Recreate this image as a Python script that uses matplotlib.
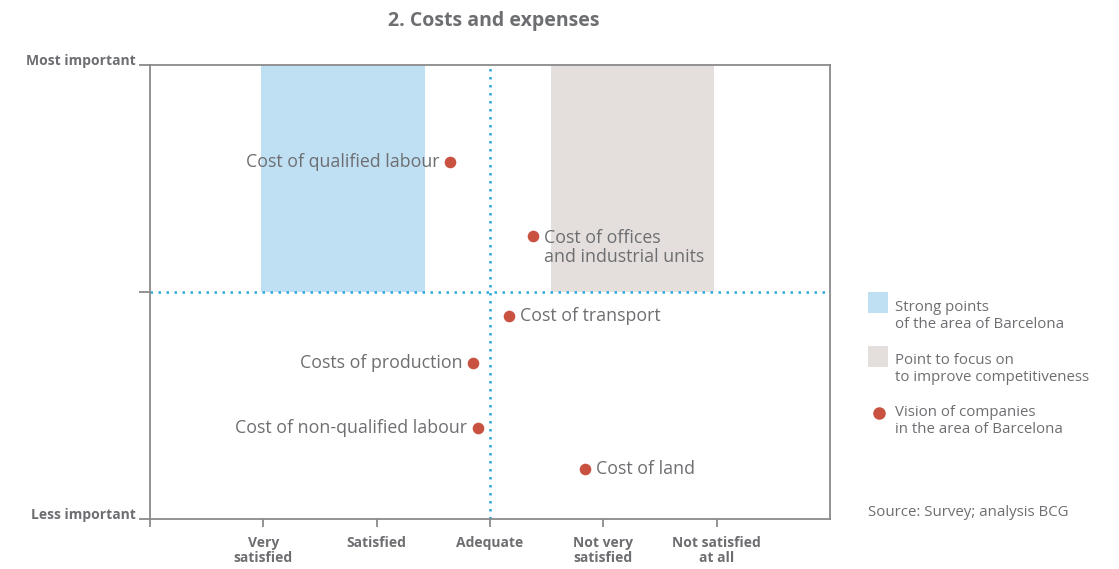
import matplotlib
matplotlib.use("Agg")
import matplotlib.pyplot as plt
import matplotlib.transforms as mtransforms
from matplotlib.patches import Rectangle
from matplotlib.lines import Line2D

plt.rcParams['font.family'] = ['Open Sans', 'DejaVu Sans']

# Data
x_categories = ["Very\nsatisfied", "Satisfied", "Adequate", "Not very\nsatisfied", "Not satisfied\nat all"]
x_positions = [1, 2, 3, 4, 5]
y_tick_labels = ["Less important", "", "Most important"]
y_tick_positions = [0, 5, 10]

point_labels = ["Cost of qualified labour", "Cost of offices\nand industrial units", "Cost of transport",
                "Costs of production", "Cost of non-qualified labour", "Cost of land"]
point_x = [2.65, 3.38, 3.17, 2.85, 2.89, 3.84]
point_y = [7.87, 6.23, 4.47, 3.44, 2.0, 1.1]
label_side = ["left", "right", "right", "left", "left", "right"]

strong_zone = (0.98, 2.43, 5, 10)   # x0, x1, y0, y1
focus_zone = (3.54, 4.98, 5, 10)

TXT = "#6d6e71"
SPINE = "#8a8a8a"
BLUE = "#bfdff3"
GREY = "#e4dfdd"
DOT = "#c8523f"
DOTTED = "#2aa8e0"

fig = plt.figure(figsize=(11.19, 5.69), dpi=100)
ax = fig.add_axes([150/1119, 1-519/569, 680/1119, 454/569])
ax.set_xlim(0, 6)
ax.set_ylim(0, 10)

ax.add_patch(Rectangle((strong_zone[0], strong_zone[2]), strong_zone[1]-strong_zone[0],
                       strong_zone[3]-strong_zone[2], facecolor=BLUE, edgecolor='none', zorder=0))
ax.add_patch(Rectangle((focus_zone[0], focus_zone[2]), focus_zone[1]-focus_zone[0],
                       focus_zone[3]-focus_zone[2], facecolor=GREY, edgecolor='none', zorder=0))

ax.axvline(3, color=DOTTED, linestyle=(0, (1, 2.2)), linewidth=1.8, zorder=1)
ax.axhline(5, color=DOTTED, linestyle=(0, (1, 2.2)), linewidth=1.8, zorder=1)

ax.scatter(point_x, point_y, s=70, color=DOT, zorder=3, linewidths=0)
for lab, px, py, side in zip(point_labels, point_x, point_y, label_side):
    if side == "left":
        ax.annotate(lab, (px, py), xytext=(-7.5, 0), textcoords='offset points',
                    ha='right', va='center', fontsize=12.8, color=TXT)
    elif '\n' in lab:
        ax.annotate(lab, (px, py), xytext=(8, 5.5), textcoords='offset points',
                    ha='left', va='top', fontsize=12.8, color=TXT, linespacing=1.1)
    else:
        ax.annotate(lab, (px, py), xytext=(8, 0), textcoords='offset points',
                    ha='left', va='center', fontsize=12.8, color=TXT)

for s in ax.spines.values():
    s.set_color(SPINE)
    s.set_linewidth(1.3)

ax.set_xticks([0] + x_positions)
ax.set_xticklabels([""] + x_categories, fontsize=10, fontweight='bold', color=TXT, linespacing=1.1)
ax.set_yticks(y_tick_positions)
ax.set_yticklabels(y_tick_labels, fontsize=10, fontweight='bold', color=TXT)
ax.tick_params(axis='x', direction='out', length=6, width=1.3, color=SPINE, pad=6.5)
ax.tick_params(axis='y', direction='out', length=8, width=1.3, color=SPINE, pad=2)
shift = mtransforms.ScaledTranslation(0, 5/100, fig.dpi_scale_trans)
for t in ax.get_yticklabels():
    t.set_transform(t.get_transform() + shift)

fig.text(494/1119, 1-21/569, "2. Costs and expenses", ha='center', va='center',
         fontsize=14, fontweight='bold', color=TXT)

# Legend
fig.patches.append(Rectangle((868/1119, 1-313/569), 20/1119, 21/569, transform=fig.transFigure,
                             facecolor=BLUE, edgecolor='none'))
fig.text(895/1119, 1-316/569, "Strong points\nof the area of Barcelona", ha='left', va='center',
         fontsize=10.8, color=TXT, linespacing=1.1)
fig.patches.append(Rectangle((868/1119, 1-367/569), 20/1119, 21/569, transform=fig.transFigure,
                             facecolor=GREY, edgecolor='none'))
fig.text(895/1119, 1-369/569, "Point to focus on\nto improve competitiveness", ha='left', va='center',
         fontsize=10.8, color=TXT, linespacing=1.1)
fig.lines.append(Line2D([879/1119], [1-413/569], transform=fig.transFigure, marker='o',
                        markersize=8, color=DOT, linestyle='none'))
fig.text(895/1119, 1-421/569, "Vision of companies\nin the area of Barcelona", ha='left', va='center',
         fontsize=10.8, color=TXT, linespacing=1.1)
fig.text(868/1119, 1-513/569, "Source: Survey; analysis BCG", ha='left', va='center',
         fontsize=10.8, color=TXT)

fig.savefig("out.png", dpi=100)
